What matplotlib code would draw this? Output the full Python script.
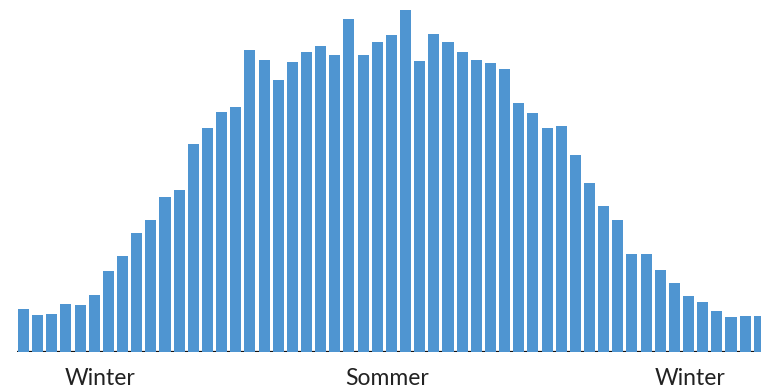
import matplotlib
matplotlib.use("Agg")
import matplotlib.pyplot as plt
import numpy as np

# Bar heights (arbitrary units)
values = [43, 37, 38, 48, 47, 57, 81, 96, 119, 132, 155, 162, 208, 224, 240, 245,
          302, 292, 272, 290, 300, 306, 297, 333, 297, 310, 317, 342, 291, 318,
          310, 300, 292, 289, 283, 249, 239, 224, 226, 197, 169, 146, 132, 98,
          98, 82, 69, 56, 50, 41, 35, 36, 36]
season_labels = ["Winter", "Sommer", "Winter"]
season_pos = [5.4, 25.7, 47.1]

bar_color = "#4f95d1"

W, H = 761, 389
fig = plt.figure(figsize=(W / 100, H / 100), dpi=100)

# axes covers full width, baseline 37 px above the bottom
base_px = 37
ax = fig.add_axes([0, base_px / H, 1, (H - base_px) / H])

pitch = 14.15      # pixels per bar
first_center = 23.5
x = np.arange(len(values))
ax.bar(x, values, width=0.78, color=bar_color, zorder=2)
ax.hlines(0, (17 - first_center) / pitch, (W - first_center) / pitch,
          color="#111111", linewidth=1.6, zorder=1)

ax.set_xlim(-first_center / pitch, (W - first_center) / pitch)
ax.set_ylim(0, H - base_px)
ax.axis("off")

for lab, pos in zip(season_labels, season_pos):
    ax.text(pos, -26.5, lab, ha="center", va="center", fontsize=16.5,
            family="Lato", color="#222222")

fig.savefig("out.png", dpi=100)
plt.close(fig)
